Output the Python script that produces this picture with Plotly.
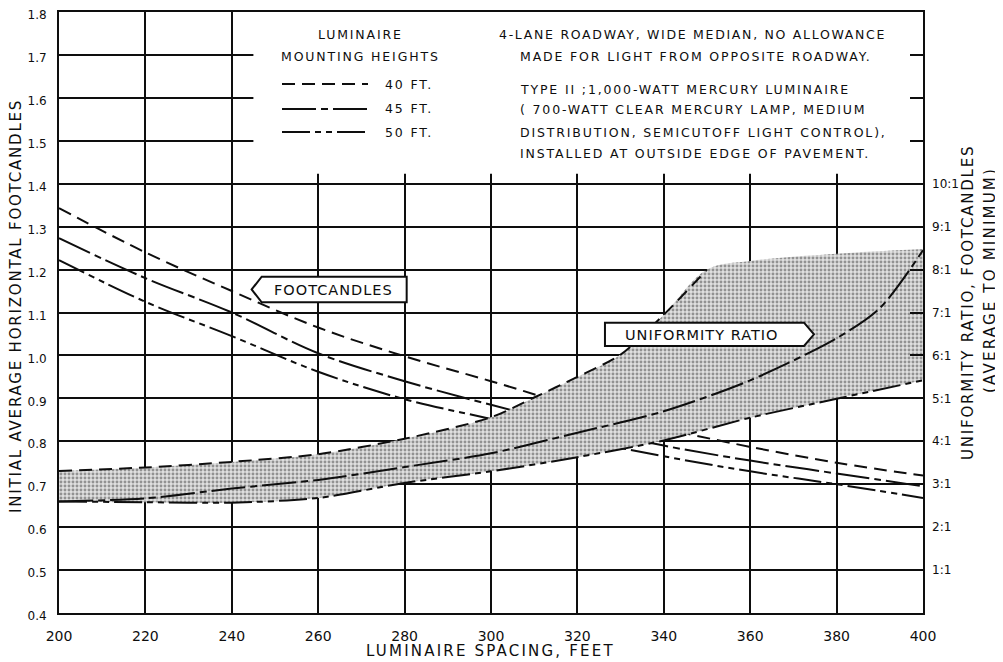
import plotly.graph_objects as go

# ---------------- data ----------------
spacing = [200, 220, 240, 260, 280, 300, 320, 340, 360, 380, 400]

# initial average horizontal footcandles
fc_40 = [1.343, 1.24, 1.15, 1.065, 0.998, 0.94, 0.88, 0.83, 0.787, 0.75, 0.72]
fc_45 = [1.273, 1.18, 1.10, 1.005, 0.94, 0.885, 0.835, 0.79, 0.755, 0.725, 0.695]
fc_50 = [1.222, 1.125, 1.045, 0.962, 0.898, 0.852, 0.805, 0.765, 0.73, 0.70, 0.668]

# uniformity ratio (average to minimum)
ur40_x = [200, 220, 240, 260, 280, 300, 310, 320, 330, 340, 350]
ur_40 = [3.31, 3.39, 3.52, 3.70, 4.06, 4.56, 5.02, 5.5, 6.02, 6.95, 8.0]
ur45_x = [200, 220, 240, 260, 280, 300, 320, 340, 360, 380, 390, 400]
ur_45 = [2.6, 2.67, 2.9, 3.1, 3.4, 3.72, 4.2, 4.7, 5.42, 6.4, 7.1, 8.45]
ur_50 = [2.6, 2.58, 2.57, 2.68, 3.03, 3.3, 3.63, 4.02, 4.55, 4.99, 5.42]
# upper edge of stippled band beyond the 40 ft curve
band_top_x = [360, 380, 400]
band_top = [8.2, 8.37, 8.48]

x_ticks = [200, 220, 240, 260, 280, 300, 320, 340, 360, 380, 400]
fc_ticks = [0.4, 0.5, 0.6, 0.7, 0.8, 0.9, 1.0, 1.1, 1.2, 1.3, 1.4, 1.5, 1.6, 1.7, 1.8]
fc_labels = [f"{v:.1f}" for v in fc_ticks]
ratio_ticks = list(range(1, 14))
ratio_labels = [f"{r}:1" for r in range(1, 11)] + ["", "", ""]

heights = ["40 FT.", "45 FT.", "50 FT."]
dashes = ["13px,7px", "34px,5px,7px,5px", "28px,5px,6px,5px,6px,5px"]

FONT = "DejaVu Sans"
INK = "#0e0e0e"

# page body has an 8px margin: plot area is placed so that the picture matches
OFF = 8
PL, PR, PT, PB = 59, 923, 12, 613      # plot area in screenshot pixels
W, H = 1003 - OFF, 662 - OFF


def ls(t, sp=2):
    return f'<span style="letter-spacing:{sp}px">{t}</span>'


def P(px, py):
    return (px - PL) / (PR - PL), (PB - py) / (PB - PT)


fig = go.Figure()

# stippled band (uniformity ratio range)
fig.add_trace(go.Scatter(x=spacing, y=ur_50, yaxis="y2", mode="lines",
                         line=dict(width=0, shape="spline"), showlegend=False,
                         hoverinfo="skip"))
fig.add_trace(go.Scatter(x=ur40_x + band_top_x, y=ur_40 + band_top, yaxis="y2",
                         mode="lines", line=dict(width=0, shape="spline"),
                         fill="tonexty", fillcolor="#d0d0d0",
                         fillpattern=dict(shape=".", fgcolor="#444444",
                                          bgcolor="#e0e0e0", size=4, solidity=0.42),
                         showlegend=False, hoverinfo="skip"))

# footcandle curves
for ys, d, n in zip([fc_40, fc_45, fc_50], dashes, heights):
    fig.add_trace(go.Scatter(x=spacing, y=ys, mode="lines", name=n,
                             line=dict(color=INK, width=2, dash=d, shape="spline"),
                             showlegend=False))

# uniformity ratio curves
for xs, ys, d, n in zip([ur40_x, ur45_x, spacing], [ur_40, ur_45, ur_50], dashes, heights):
    fig.add_trace(go.Scatter(x=xs, y=ys, yaxis="y2", mode="lines", name=n,
                             line=dict(color=INK, width=2, dash=d, shape="spline",
                                       smoothing=0.8),
                             showlegend=False))

shapes = []
# white text panel covering the grid in the upper region
shapes.append(dict(type="rect", xref="x", yref="y", x0=245, x1=400, y0=1.423, y1=1.8,
                   fillcolor="white", line=dict(width=0), layer="between"))

# FOOTCANDLES arrow label
pts = [P(251.7, 289.5), P(261.7, 276.7), P(406.7, 276.7), P(406.7, 302.3), P(261.7, 302.3)]
shapes.append(dict(type="path", xref="paper", yref="paper",
                   path="M" + " L".join(f"{a:.4f},{b:.4f}" for a, b in pts) + " Z",
                   fillcolor="white", line=dict(color=INK, width=2), layer="above"))
# UNIFORMITY RATIO arrow label
pts = [P(605, 322.7), P(804, 322.7), P(814, 334.3), P(804, 346), P(605, 346)]
shapes.append(dict(type="path", xref="paper", yref="paper",
                   path="M" + " L".join(f"{a:.4f},{b:.4f}" for a, b in pts) + " Z",
                   fillcolor="white", line=dict(color=INK, width=2), layer="above"))

# legend key lines
leg_y = [84, 109, 132]
for yy, d in zip(leg_y, dashes):
    x0, y0 = P(282, yy)
    x1, _ = P(368, yy)
    shapes.append(dict(type="line", xref="paper", yref="paper", x0=x0, x1=x1, y0=y0, y1=y0,
                       line=dict(color=INK, width=2, dash=d), layer="above"))

ann = []


def A(text, px, py, size=12.5, xanchor="center", angle=0, sp=1.85):
    x, y = P(px, py)
    ann.append(dict(text=ls(text, sp), x=x, y=y, xref="paper", yref="paper",
                    xanchor=xanchor, yanchor="middle", showarrow=False, textangle=angle,
                    font=dict(family=FONT, size=size, color=INK)))


A("LUMINAIRE", 360, 35)
A("MOUNTING HEIGHTS", 360, 56)
for yy, n in zip(leg_y, heights):
    A(n, 383, yy, xanchor="left")

A("4-LANE ROADWAY, WIDE MEDIAN, NO ALLOWANCE", 497, 35, xanchor="left", sp=1.7)
A("MADE FOR LIGHT FROM OPPOSITE ROADWAY.", 518, 56, xanchor="left")
A("TYPE II ;1,000-WATT MERCURY LUMINAIRE", 518, 89, xanchor="left")
A("( 700-WATT CLEAR MERCURY LAMP, MEDIUM", 518, 110, xanchor="left")
A("DISTRIBUTION, SEMICUTOFF LIGHT CONTROL),", 518, 132, xanchor="left")
A("INSTALLED AT OUTSIDE EDGE OF PAVEMENT.", 518, 153, xanchor="left")

A("FOOTCANDLES", 333, 290, size=14.5, sp=1)
A("UNIFORMITY RATIO", 702, 335, size=14.5, sp=1)

A("LUMINAIRE SPACING, FEET", 490, 651, size=15, sp=2.2)
A("INITIAL AVERAGE HORIZONTAL FOOTCANDLES", 16, 306, size=15, angle=-90, sp=1.8)
A("UNIFORMITY RATIO, FOOTCANDLES", 968, 302, size=15, angle=-90, sp=1.8)
A("(AVERAGE TO MINIMUM)", 990, 280, size=15, angle=-90, sp=2.2)

fig.update_layout(
    width=W, height=H,
    margin=dict(l=PL - OFF, r=W - (PR - OFF), t=PT - OFF, b=H - (PB - OFF), pad=0),
    paper_bgcolor="white", plot_bgcolor="white",
    showlegend=False,
    xaxis=dict(range=[200, 400], tickvals=x_ticks, showgrid=True, gridcolor=INK,
               gridwidth=2, showline=True, linecolor=INK, linewidth=2, mirror=True,
               ticks="", ticklabelstandoff=9, zeroline=False, automargin=False,
               ticklabeloverflow="allow",
               tickfont=dict(family=FONT, size=14, color=INK)),
    yaxis=dict(range=[0.4, 1.8], tickvals=fc_ticks, ticktext=fc_labels, showgrid=True,
               gridcolor=INK, gridwidth=2, showline=True, linecolor=INK, linewidth=2,
               mirror=True, ticks="", ticklabelstandoff=8, zeroline=False, automargin=False,
               ticklabeloverflow="allow", ticklabelshift=3,
               tickfont=dict(family=FONT, size=12, color=INK)),
    yaxis2=dict(range=[0, 14], overlaying="y", side="right", tickvals=ratio_ticks,
                ticktext=ratio_labels, showgrid=False, zeroline=False, showline=False,
                ticks="inside", ticklen=13, tickwidth=2, tickcolor=INK, automargin=False,
                ticklabeloverflow="allow",
                ticklabelstandoff=8, tickfont=dict(family=FONT, size=12, color=INK)),
    shapes=shapes,
    annotations=ann,
)

fig.write_html("out.html")
